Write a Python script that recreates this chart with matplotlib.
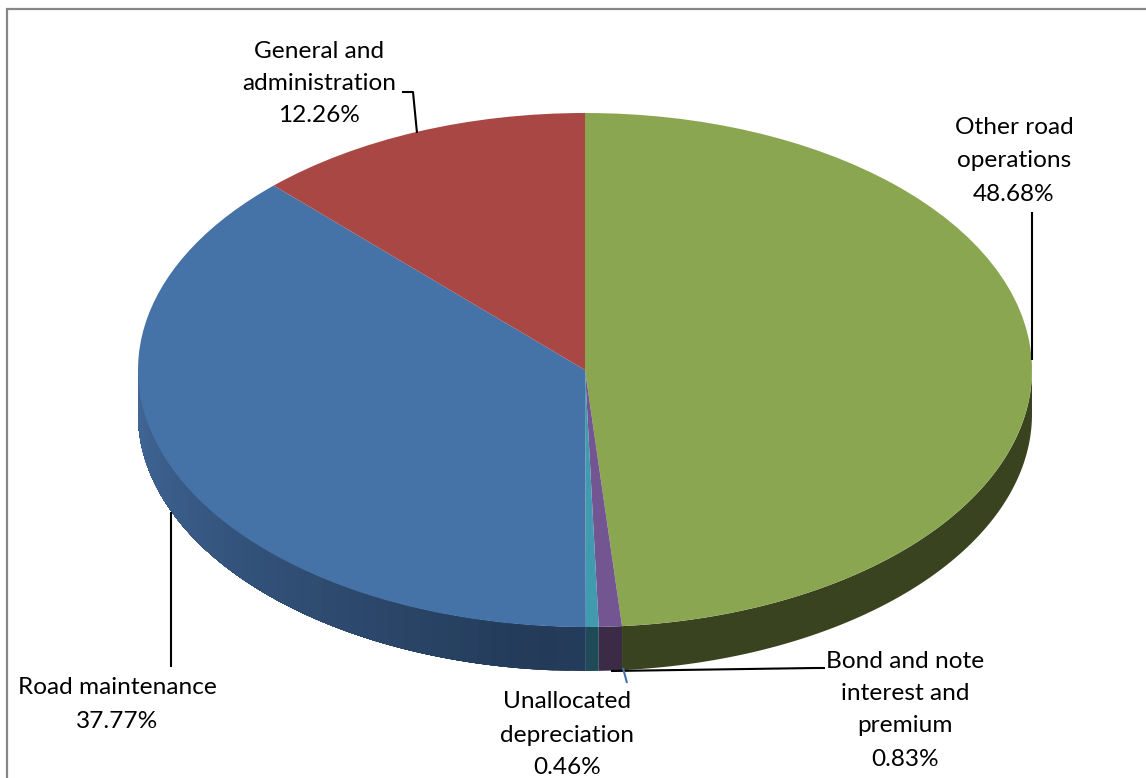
import numpy as np
import matplotlib
matplotlib.use("Agg")
import matplotlib.pyplot as plt
from matplotlib.patches import Polygon

W, H = 1146, 778
categories = ["Other road\noperations", "Bond and note\ninterest and\npremium",
              "Unallocated\ndepreciation", "Road maintenance", "General and\nadministration"]
values = [48.68, 0.83, 0.46, 37.77, 12.26]
top_colors = ["#8BA650", "#735591", "#429AAE", "#4673A7", "#A94745"]
# side wall colours: at the near (bottom) point and at the far (side) point
wall_near = ["#39431F", "#3B2B47", "#1F4A57", "#233A58", "#5A2625"]
wall_far = ["#39431F", "#3B2B47", "#1F4A57", "#42699A", "#5A2625"]

CX, CY, RX, RY, DEPTH = 585, 370, 447, 257, 44

plt.rcParams['font.family'] = ['Lato', 'DejaVu Sans']
fig = plt.figure(figsize=(W / 100, H / 100), dpi=100, facecolor="white")

# Pie axes: unit circle squeezed to an ellipse
ax = fig.add_axes([0, 0, 1, 1])
ax.pie(values, colors=top_colors, startangle=90, counterclock=False, radius=1,
       wedgeprops=dict(linewidth=0, zorder=5))
ax.set_aspect('auto')
ax.set_xlim((0 - CX) / RX, (W - CX) / RX)
ax.set_ylim((CY - H) / RY, CY / RY)
ax.axis('off')

# Extruded side wall derived from the same values; each band runs to the end
# of its wedge and the next one paints over it, so no seams appear.
d = DEPTH / RY
edges = np.concatenate([[0], np.cumsum(values)]) / sum(values) * 360
c2rgb = matplotlib.colors.to_rgb
for i in range(len(values)):
    a0, a1 = max(edges[i], 90), min(edges[i + 1], 270)
    if a1 <= a0:
        continue
    near, far = np.array(c2rgb(wall_near[i])), np.array(c2rgb(wall_far[i]))
    starts = np.arange(a0, a1, 2.0) if wall_near[i] != wall_far[i] else [a0]
    for s in starts:
        t = np.radians(np.linspace(s, a1, max(int((a1 - s) * 2), 2) + 1))
        x, y = np.sin(t), np.cos(t)
        f = np.clip(abs(s + 1 - 185) / 85, 0, 1)
        col = near + (far - near) * f
        pts = np.r_[np.c_[x, y], np.c_[x[::-1], y[::-1] - d]]
        ax.add_patch(Polygon(pts, closed=True, facecolor=col, edgecolor="none", lw=0, zorder=3))

# Overlay in pixel coordinates for leaders, labels and frame
ov = fig.add_axes([0, 0, 1, 1], facecolor="none")
ov.set_xlim(0, W)
ov.set_ylim(H, 0)
ov.axis('off')

ov.plot([7, 7, W], [H, 8.5, 8.5], color="#868686", lw=1.6, solid_joinstyle="miter")

leaders = [
    ([1032, 1032], [360, 212], "black"),
    ([611, 815, 825], [671, 668, 668], "black"),
    ([623, 627], [668, 683], "#4673A7"),
    ([171, 171], [512, 667], "black"),
    ([417, 413, 402], [133, 92, 92], "black"),
]
for xs, ys, c in leaders:
    ov.plot(xs, ys, color=c, lw=1.5, solid_capstyle="butt", zorder=4)

anchors = [(1014, [127, 160, 194]), (905, [662, 694, 726, 759]), (567, [702, 735, 767]),
           (117, [688, 722]), (319, [51, 83, 115])]
for cat, v, (x, ys) in zip(categories, values, anchors):
    lines = cat.split("\n") + [f"{v:.2f}%"]
    for line, y in zip(lines, ys):
        ov.text(x, y, line, ha="center", va="center", fontsize=17.6, color="black")

fig.savefig("out.png", dpi=100)
